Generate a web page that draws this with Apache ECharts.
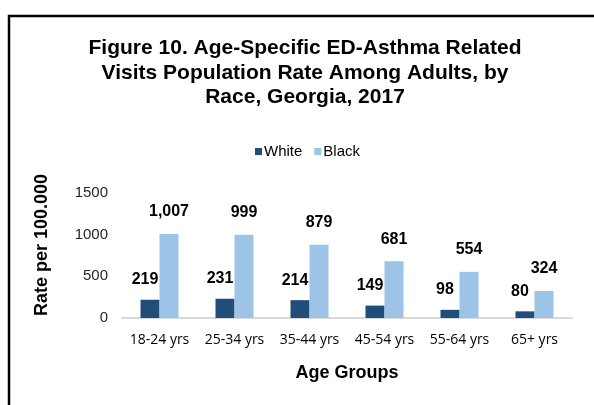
<!DOCTYPE html>
<html>
<head>
<meta charset="utf-8">
<script src="https://cdn.jsdelivr.net/npm/echarts@6/dist/echarts.min.js"></script>
<style>
  html, body { margin: 0; padding: 0; background: #fff; }
  #chart { width: 594px; height: 405px; }
</style>
</head>
<body>
<div id="chart"></div>
<script>
// Age-specific ED asthma visit rates per 100,000, Georgia 2017
const ageGroups = ['18-24 yrs', '25-34 yrs', '35-44 yrs', '45-54 yrs', '55-64 yrs', '65+ yrs'];
const whiteRates = [219, 231, 214, 149, 98, 80];
const blackRates = [1007, 999, 879, 681, 554, 324];
const yTicks = { min: 0, max: 1500, interval: 500 };

const fmt = v => v.toLocaleString('en-US');
const sans = 'Liberation Sans, Arial, sans-serif';

const chart = echarts.init(document.getElementById('chart'), null, { renderer: 'canvas' });

chart.setOption({
  backgroundColor: '#ffffff',
  animation: false,
  title: {
    text: 'Figure 10. Age-Specific ED-Asthma Related\nVisits Population Rate Among Adults, by\nRace, Georgia, 2017',
    left: 305,
    top: 36,
    textAlign: 'center',
    padding: 0,
    textStyle: {
      fontFamily: sans,
      fontWeight: 'bold',
      fontSize: 21,
      lineHeight: 24.5,
      color: '#000'
    }
  },
  legend: {
    data: ['White', 'Black'],
    left: 250,
    top: 139,
    itemWidth: 7,
    itemHeight: 7,
    itemGap: 12,
    icon: 'rect',
    textStyle: {
      fontFamily: sans,
      fontSize: 15,
      color: '#000',
      padding: [0, 0, 0, -3]
    }
  },
  grid: { left: 122, right: 22, top: 193, bottom: 87, containLabel: false },
  xAxis: {
    type: 'category',
    data: ageGroups,
    name: 'Age Groups',
    nameLocation: 'middle',
    nameGap: 46,
    nameTextStyle: {
      fontFamily: sans,
      fontWeight: 'bold',
      fontSize: 18,
      color: '#000'
    },
    axisLine: { lineStyle: { color: '#d9d9d9', width: 2 } },
    axisTick: { show: false },
    axisLabel: {
      interval: 0,
      fontFamily: 'Open Sans, sans-serif',
      fontSize: 14,
      color: '#000',
      margin: 15
    }
  },
  yAxis: {
    type: 'value',
    min: yTicks.min,
    max: yTicks.max,
    interval: yTicks.interval,
    name: 'Rate per 100.000',
    nameLocation: 'middle',
    nameGap: 71,
    nameTextStyle: {
      fontFamily: sans,
      fontWeight: 'bold',
      fontSize: 18,
      color: '#000',
      padding: [0, 0, 0, 21]
    },
    splitLine: { show: false },
    axisLine: { show: false },
    axisTick: { show: false },
    axisLabel: {
      fontFamily: sans,
      fontSize: 15,
      color: '#262626',
      margin: 14,
      formatter: v => String(v)
    }
  },
  series: [
    {
      name: 'White',
      type: 'bar',
      data: whiteRates,
      barWidth: 19,
      barGap: '0%',
      itemStyle: { color: '#1f4e79' },
      label: {
        show: true,
        position: 'top',
        distance: 12,
        offset: [-5, 0],
        formatter: p => fmt(p.value),
        fontFamily: sans,
        fontWeight: 'bold',
        fontSize: 16,
        color: '#000'
      }
    },
    {
      name: 'Black',
      type: 'bar',
      data: blackRates,
      barWidth: 19,
      itemStyle: { color: '#9dc3e6' },
      label: {
        show: true,
        position: 'top',
        distance: 14,
        formatter: p => fmt(p.value),
        fontFamily: sans,
        fontWeight: 'bold',
        fontSize: 16,
        color: '#000'
      }
    }
  ],
  graphic: [
    {
      type: 'polyline',
      silent: true,
      shape: { points: [[9, 405], [9, 16], [594, 16]] },
      style: { stroke: '#000', lineWidth: 2.5, fill: null }
    }
  ]
});
</script>
</body>
</html>
